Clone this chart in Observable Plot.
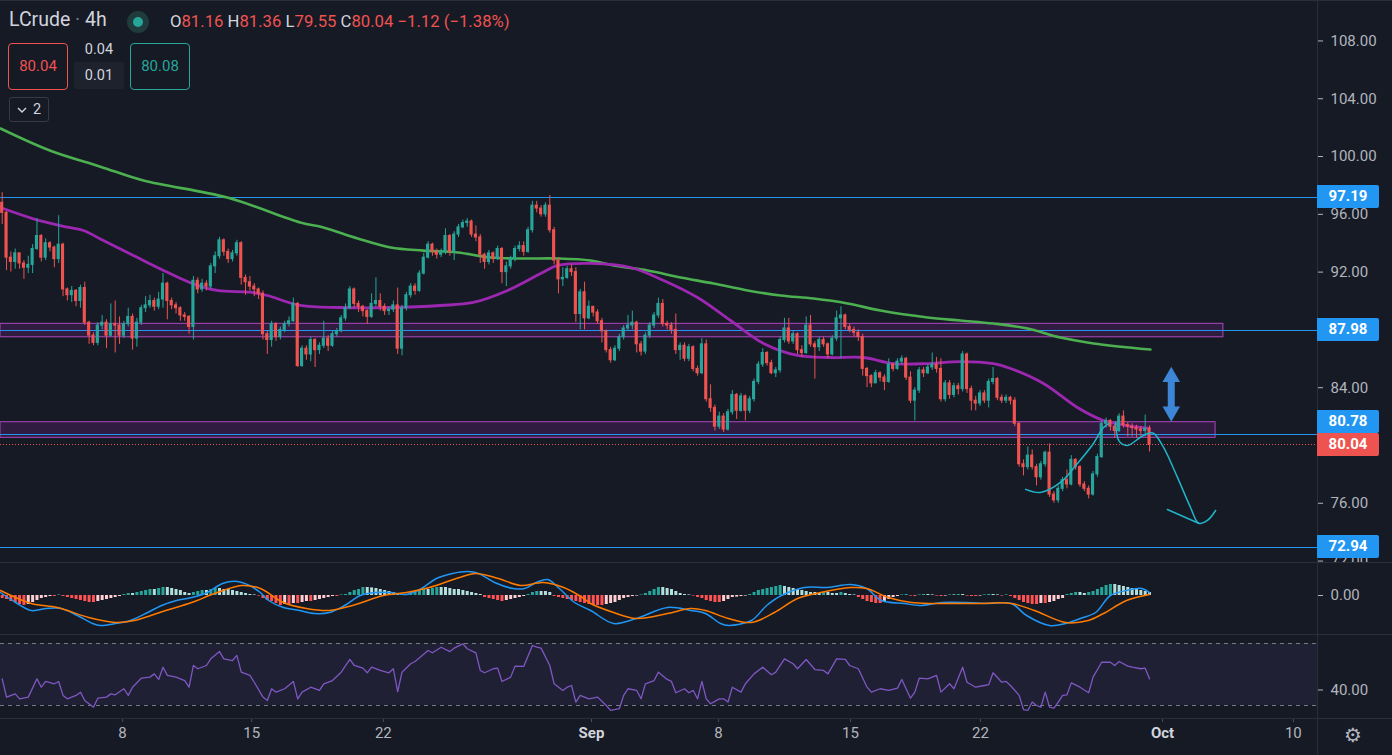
<!DOCTYPE html>
<html><head><meta charset="utf-8">
<script src="https://cdn.jsdelivr.net/npm/d3@7"></script>
<script src="https://cdn.jsdelivr.net/npm/@observablehq/plot@0.6"></script>
<style>
html,body{margin:0;padding:0;background:#161a25;overflow:hidden}
#wrap{position:relative;width:1392px;height:755px;background:#161a25;font-family:Roboto,"Noto Sans",sans-serif;color:#d1d4dc;overflow:hidden}
#wrap > svg{display:block}
.ov{position:absolute;white-space:nowrap}
.sep{position:absolute;background:#2a2e39}
.plabel{position:absolute;left:1317px;width:62px;height:23px;line-height:23px;text-align:center;color:#fff;font-weight:700;font-size:15px;border-radius:0 2px 2px 0}
.box{position:absolute;box-sizing:border-box;text-align:center;border-radius:4px;font-size:15px;white-space:nowrap}
.box svg{display:inline-block}
</style></head>
<body><div id="wrap"></div>
<script>
// ---------- DATA ----------
const symbol = "LCrude", interval = "4h";
const open0 = 96.8;
const close = [
96.1,93.0,92.7,93.3,92.6,92.3,92.5,93.6,94.5,93.0,
94.0,93.7,92.9,93.9,90.8,90.4,90.7,90.0,90.9,88.5,
87.6,87.1,88.3,88.5,87.6,88.4,88.3,87.6,88.4,88.9,
87.4,88.5,89.5,89.7,90.0,89.6,90.1,91.2,90.0,89.7,
89.5,89.0,88.9,88.2,91.4,90.8,91.2,91.0,92.4,93.1,
94.2,93.4,92.9,93.3,94.0,91.6,91.3,91.0,90.8,90.5,
87.7,87.3,88.4,87.5,88.0,88.4,88.6,89.8,85.5,86.7,
86.3,87.3,86.6,86.9,87.4,86.9,87.7,87.9,88.8,89.5,
90.8,89.8,89.6,89.3,88.9,89.8,90.0,89.6,89.3,89.4,
89.7,86.7,89.5,90.4,91.0,90.7,91.9,93.0,93.9,93.4,
93.2,93.4,94.5,93.4,94.6,95.1,95.4,95.5,94.6,94.4,
93.2,92.7,93.3,92.9,93.6,92.0,92.4,92.9,93.6,93.8,
93.4,94.9,96.6,96.4,96.0,96.6,94.9,92.8,91.5,91.6,
92.2,92.0,89.1,90.6,88.8,89.6,89.2,88.6,87.9,86.6,
85.9,86.7,87.5,88.1,88.3,88.5,87.0,86.5,87.6,88.3,
89.0,89.8,88.4,88.3,88.0,86.6,86.9,86.0,86.8,85.3,
85.0,87.0,83.2,82.6,81.3,82.0,81.1,82.3,83.5,82.4,
83.4,82.4,83.2,84.4,85.6,86.4,85.7,85.0,85.2,87.3,
88.1,87.2,87.7,86.6,86.4,88.3,87.0,86.8,87.3,87.0,
86.3,87.4,88.8,89.0,88.2,88.0,87.8,87.5,85.3,84.8,
84.3,85.0,84.7,84.4,85.6,85.3,85.8,86.0,84.7,83.1,
83.8,85.2,85.0,85.4,85.6,85.3,83.2,84.3,83.5,84.1,
83.9,86.3,83.9,83.1,82.9,83.6,83.1,84.4,84.6,83.3,
83.1,83.3,83.1,81.5,78.7,78.5,79.3,78.5,77.8,78.7,
79.5,76.6,76.2,77.0,77.6,77.3,79.0,78.5,77.3,77.0,
76.6,78.0,79.2,81.5,81.7,81.3,81.0,82.0,81.4,81.3,
81.2,81.1,81.0,81.16,80.04];
const high = [
97.5,96.2,93.4,93.6,93.3,92.8,93.1,93.9,95.7,94.6,
94.3,94.1,93.8,95.9,94.0,90.9,91.0,90.8,91.1,91.3,
88.6,87.8,88.5,89.0,88.7,89.8,90.0,88.9,88.6,89.5,
89.1,88.8,89.7,90.3,90.4,90.2,90.6,91.9,91.3,90.2,
89.9,89.6,89.2,89.0,91.7,91.6,91.5,91.4,92.6,93.4,
94.4,94.3,93.6,93.5,94.2,94.1,91.8,91.7,91.2,90.9,
90.7,87.9,88.6,88.5,88.2,88.6,88.9,90.2,89.9,86.9,
86.9,87.5,87.4,87.1,88.6,87.6,87.9,88.1,89.0,89.8,
91.0,90.9,90.0,89.7,89.4,90.5,91.6,90.5,89.8,89.6,
90.0,90.9,89.7,90.6,91.2,91.2,92.1,93.3,94.1,94.0,
93.6,93.6,95.0,94.6,94.8,95.3,95.6,95.7,95.6,95.2,
94.6,93.3,93.5,93.4,93.8,93.7,92.7,93.1,93.8,94.1,
94.1,95.1,96.9,96.9,96.6,96.8,97.3,95.1,93.0,92.3,
92.4,92.5,92.3,90.8,91.3,90.0,89.6,89.4,88.8,88.0,
86.8,86.9,87.7,88.3,89.0,89.3,88.6,87.2,87.8,88.5,
89.2,90.2,90.1,88.6,88.5,89.1,87.1,87.1,87.0,86.9,
85.5,87.4,87.3,84.2,82.8,82.3,82.2,82.5,83.8,83.6,
83.6,83.5,83.4,84.6,85.8,86.7,86.5,85.9,85.4,87.5,
88.8,88.8,87.9,87.8,86.9,88.9,89.0,87.2,87.5,87.5,
87.1,87.6,89.3,89.6,89.1,88.4,88.2,88.0,87.7,85.4,
84.9,85.2,85.1,84.9,86.0,85.7,86.0,86.2,86.1,85.1,
84.0,85.4,85.4,85.6,86.4,86.1,86.0,84.5,84.5,84.3,
84.3,86.5,86.4,84.1,83.4,83.8,83.8,84.6,85.4,84.7,
83.5,83.5,83.4,83.3,81.6,79.0,79.9,79.7,78.7,78.9,
79.6,80.1,76.8,77.2,77.8,78.3,79.3,79.1,78.6,77.5,
77.2,78.2,79.4,81.7,81.9,81.8,81.5,82.2,82.4,81.6,
81.5,81.4,81.3,82.1,81.36];
const low = [
95.3,92.1,92.0,92.2,92.2,91.5,91.9,91.9,93.5,92.7,
92.8,93.4,92.3,92.6,90.3,90.0,89.9,89.6,89.5,88.3,
87.0,86.9,86.9,88.0,86.7,87.5,86.4,87.0,87.4,88.2,
86.6,86.8,88.3,89.2,89.5,89.3,89.4,89.5,88.7,89.4,
89.1,88.6,88.6,87.7,87.3,90.5,90.6,90.7,90.8,91.9,
92.9,93.1,92.6,92.7,93.1,91.1,90.4,90.7,90.3,90.1,
87.3,86.3,86.8,87.2,87.3,87.8,88.2,88.5,85.4,85.4,
85.9,85.8,85.4,86.3,86.7,86.5,86.8,87.5,87.8,88.6,
89.4,89.5,89.2,88.9,88.4,88.8,89.6,89.3,89.0,89.0,
89.2,86.3,86.2,89.3,90.2,90.4,90.6,91.8,92.9,93.1,
92.9,93.0,93.2,93.1,92.8,94.4,95.0,95.1,94.4,94.1,
92.6,92.2,92.5,92.6,92.8,91.2,91.0,92.2,92.7,93.4,
93.1,93.3,94.7,96.1,95.8,95.8,94.7,92.5,90.5,91.0,
91.5,91.7,88.5,88.0,88.0,88.7,88.9,88.4,87.1,86.4,
85.7,85.8,86.5,87.3,87.9,88.0,86.4,86.2,86.3,87.4,
88.1,88.8,88.2,88.0,87.7,86.3,85.9,85.8,85.8,85.1,
84.8,84.9,83.0,82.3,81.0,81.1,80.9,81.0,82.1,81.8,
82.3,81.7,82.2,83.0,84.2,85.4,85.5,84.9,84.7,85.0,
87.1,87.0,87.0,86.3,86.1,86.3,86.8,84.6,86.5,86.8,
86.0,86.2,87.2,86.0,88.0,87.8,87.5,87.2,84.8,84.0,
84.0,84.3,84.4,83.8,84.3,85.1,85.2,85.6,84.5,82.9,
81.7,83.6,84.7,84.9,85.2,85.0,83.0,83.0,83.2,83.3,
83.5,83.7,83.6,82.4,82.4,82.7,82.9,82.6,84.2,83.1,
82.9,82.9,82.8,81.3,78.5,77.9,78.3,78.3,77.2,77.6,
78.5,76.4,76.0,76.0,76.8,77.0,77.2,78.3,77.1,76.8,
76.3,76.5,77.8,79.1,81.2,81.0,80.5,80.9,81.2,80.6,
80.6,80.5,80.5,80.6,79.55];
// moving averages: [bar, value]
const ma50 = [[-0.4,96.47],[7.2,95.69],[15.0,95.11],[18.7,94.88],[22.6,94.30],[30.2,93.15],[38.0,91.99],[44.0,91.19],[49.5,90.73],[57.1,90.61],[61.0,90.38],[68.6,89.69],[77.8,89.55],[89.4,89.55],[100.8,89.69],[108.4,89.90],[116.3,90.73],[123.9,91.90],[127.8,92.46],[135.4,92.60],[144.6,92.32],[152.2,91.42],[160.0,90.24],[167.6,88.65],[175.2,87.06],[183.0,86.23],[190.6,86.09],[198.2,86.09],[205.1,85.67],[212.9,85.67],[220.5,85.81],[228.1,85.67],[232.0,85.33],[239.6,84.29],[247.4,82.63],[253.4,81.73],[258.9,81.38],[264.0,81.18]];
const ma200 = [[-0.4,101.94],[11.1,100.4],[22.6,99.3],[32.5,98.34],[51.8,97.16],[68.6,95.43],[73.9,95.09],[81.8,94.33],[89.4,93.70],[96.9,93.49],[104.8,93.36],[112.4,93.01],[119.9,92.94],[127.8,92.94],[135.4,92.80],[140.7,92.46],[148.5,92.11],[156.1,91.63],[163.7,91.21],[171.5,90.73],[179.1,90.38],[186.7,90.17],[194.5,89.83],[202.1,89.34],[212.9,88.86],[220.5,88.65],[228.1,88.44],[235.9,88.10],[243.5,87.47],[251.1,87.06],[264.2,86.64]];
// MACD
const macdHist = [
-0.15,-0.2,-0.3,-0.35,-0.45,-0.5,-0.45,-0.35,-0.25,-0.15,
-0.1,-0.05,-0.05,0.03,-0.05,-0.1,-0.15,-0.2,-0.25,-0.3,
-0.35,-0.35,-0.3,-0.25,-0.2,-0.15,-0.1,-0.05,0.05,0.1,
0.1,0.15,0.2,0.25,0.3,0.3,0.35,0.4,0.4,0.35,
0.3,0.25,0.15,0.1,0.15,0.2,0.25,0.25,0.3,0.35,
0.35,0.3,0.3,0.25,0.2,0.15,0.1,0.05,0.03,-0.03,
-0.15,-0.25,-0.3,-0.4,-0.5,-0.45,-0.45,-0.4,-0.4,-0.35,
-0.3,-0.3,-0.25,-0.2,-0.15,-0.1,-0.05,-0.05,0.03,0.05,
0.15,0.25,0.3,0.4,0.4,0.38,0.35,0.3,0.25,0.2,
0.15,0.1,0.05,0.05,0.15,0.2,0.25,0.3,0.3,0.35,
0.4,0.4,0.4,0.35,0.3,0.3,0.25,0.2,0.15,0.1,
0.05,-0.1,-0.15,-0.2,-0.25,-0.3,-0.25,-0.2,-0.15,-0.1,
-0.05,0.05,0.15,0.2,0.2,0.2,0.15,-0.05,-0.1,-0.15,
-0.2,-0.25,-0.3,-0.35,-0.4,-0.45,-0.5,-0.5,-0.5,-0.45,
-0.4,-0.35,-0.25,-0.15,-0.1,-0.05,-0.03,0.03,0.1,0.2,
0.3,0.4,0.4,0.35,0.3,0.2,0.1,0.05,0.03,-0.03,
-0.1,-0.15,-0.25,-0.3,-0.35,-0.35,-0.3,-0.2,-0.1,-0.08,
-0.05,-0.03,0.05,0.15,0.25,0.3,0.35,0.4,0.45,0.5,
0.45,0.4,0.35,0.3,0.25,0.2,0.15,0.15,0.1,0.15,
0.15,0.1,0.1,0.15,0.1,0.05,0.03,-0.1,-0.2,-0.3,
-0.35,-0.4,-0.4,-0.3,-0.2,-0.1,-0.05,0.03,0.05,-0.03,
-0.05,0.03,0.05,0.05,0.03,-0.03,-0.05,-0.03,0.03,0.03,
0.05,0.05,-0.03,-0.05,-0.05,-0.03,0.03,0.05,0.05,0.03,
-0.03,0.03,-0.05,-0.15,-0.25,-0.35,-0.4,-0.45,-0.45,-0.4,
-0.4,-0.35,-0.3,-0.2,-0.15,0.05,0.1,0.15,0.15,0.1,
0.15,0.2,0.3,0.4,0.5,0.55,0.55,0.5,0.45,0.4,
0.35,0.3,0.25,0.2,0.15];
const macdLine = [[-0.4,0.15],[3.1,-0.35],[6.7,-0.75],[10.2,-0.65],[13.6,-0.65],[17.3,-1.0],[20.8,-1.4],[22.6,-1.5],[26.1,-1.4],[29.5,-1.25],[33.0,-0.9],[36.7,-0.5],[40.1,-0.25],[43.6,-0.1],[47.2,0.15],[50.7,0.6],[54.1,0.7],[56.9,0.5],[59.4,0.15],[61.3,-0.25],[64.7,-0.6],[68.4,-0.75],[71.9,-0.9],[75.3,-0.85],[78.8,-0.5],[82.4,0],[85.9,0.15],[89.3,0.15],[93.0,0.05],[96.5,0.35],[99.9,0.85],[103.6,1.1],[107.1,1.2],[109.6,1.1],[113.3,0.65],[117.6,0.35],[120.2,0.35],[122.9,0.65],[125.5,0.8],[128.2,0.35],[131.7,-0.35],[135.4,-0.75],[140.7,-1.4],[145.9,-1.15],[153.1,-0.6],[158.4,-0.75],[161.8,-0.9],[165.3,-1.4],[167.1,-1.5],[172.4,-1.25],[175.9,-0.5],[179.3,0],[184.6,0.4],[189.9,0.4],[195.2,0.55],[198.9,0.35],[202.3,-0.25],[207.6,-0.4],[211.1,-0.5],[216.4,-0.35],[221.7,-0.35],[226.9,-0.4],[232.2,-0.4],[235.7,-1.0],[241.0,-1.5],[244.7,-1.4],[248.1,-1.15],[251.6,-0.85],[255.0,0],[258.7,0.25],[262.2,0.35],[264.0,0.15]];
const signalLine = [[-0.4,0.25],[6.7,-0.4],[12.7,-0.6],[19.9,-1.1],[26.1,-1.35],[30.4,-1.25],[37.6,-0.75],[43.6,-0.35],[48.9,0.1],[55.1,0.5],[59.4,0.35],[64.7,-0.35],[70.0,-0.65],[75.3,-0.75],[80.6,-0.5],[87.7,0],[93.0,0.15],[98.3,0.4],[105.2,0.9],[108.9,1.1],[114.2,0.85],[119.3,0.5],[124.5,0.65],[129.2,0.4],[133.5,-0.1],[135.4,-0.4],[140.7,-0.85],[145.9,-1.15],[153.1,-0.9],[158.4,-0.65],[161.8,-0.75],[167.1,-1.15],[172.4,-1.35],[177.7,-0.85],[183.0,-0.15],[188.3,0.15],[195.2,0.4],[198.9,0.35],[203.9,-0.1],[209.2,-0.35],[214.5,-0.4],[223.5,-0.4],[232.2,-0.4],[237.5,-0.75],[244.7,-1.35],[249.9,-1.25],[253.4,-0.9],[258.7,-0.25],[264.0,0.05]];
// RSI: [bar, value]
const rsi = [[0,47.2],[1,35.4],[3,37.5],[4,34.3],[6,35.4],[8,47.2],[9,41.8],[10,45.5],[12,44],[13,45.5],[14,36.5],[15,34.3],[17,36.5],[18,38.6],[19,33.2],[21,28.9],[22,34.7],[24,35.4],[25,37.5],[26,36.9],[28,40.8],[29,36.5],[30,41.8],[32,47.6],[34,48.3],[35,50.4],[36,46.8],[37,54.7],[38,49.4],[40,48.3],[42,46.1],[43,41.8],[44,55.8],[45,53.7],[47,55.8],[48,60.1],[50,64.8],[51,60.1],[53,59.0],[54,62.3],[55,51.5],[57,49.4],[58,45.0],[60,35.4],[61,33.2],[62,40.8],[63,38.6],[65,40.8],[67,45.5],[68,34.3],[69,38.6],[71,41.8],[73,39.7],[74,44.0],[76,46.1],[78,51.5],[80,59.7],[81,55.8],[83,54.1],[84,51.1],[85,54.7],[87,52.6],[89,51.1],[90,53.7],[91,39.0],[92,51.5],[94,56.9],[95,58.4],[98,65.5],[99,64.0],[101,67.6],[103,64.8],[104,67.0],[106,69.8],[107,66.6],[109,64.0],[110,52.6],[111,51.1],[113,53.7],[114,54.1],[115,45.5],[117,48.3],[118,55.4],[120,55.2],[122,68.7],[123,67.6],[124,67.0],[126,55.8],[127,44.0],[129,39.7],[130,41.8],[131,42.9],[132,32.2],[133,36.5],[135,34.3],[137,35.4],[139,30.0],[140,26.8],[142,27.9],[143,36.5],[144,40.8],[146,39.7],[147,34.3],[148,44.0],[150,46.1],[151,51.5],[153,46.8],[154,45.5],[155,38.2],[157,40.8],[158,38.2],[159,39.7],[160,34.3],[161,45.5],[162,34.3],[163,31.1],[165,34.3],[166,34.3],[167,32.2],[168,41.8],[170,38.6],[171,44.0],[173,50.4],[175,54.7],[177,49.8],[178,51.5],[180,60.1],[182,56.9],[183,53.7],[185,59.7],[187,53.2],[189,52.6],[190,50.4],[192,60.1],[194,59.7],[195,55.8],[197,53.7],[199,41.8],[200,38.6],[202,40.8],[204,39.7],[206,41.2],[207,46.8],[209,34.7],[210,38.6],[211,47.6],[213,47.2],[215,49.4],[216,38.6],[218,44.0],[219,40.8],[221,54.7],[222,45.0],[224,41.8],[226,42.9],[227,43.4],[228,51.1],[230,45.0],[231,45.5],[232,42.9],[234,36.5],[235,27.4],[236,26.8],[237,32.2],[238,30.0],[239,28.9],[240,38.6],[241,28.9],[242,28.3],[243,32.2],[244,36.5],[245,36.9],[246,44.6],[248,41.8],[250,38.2],[251,48.3],[253,57.9],[255,57.9],[256,55.8],[257,58.4],[259,55.4],[260,54.7],[262,53.7],[263,54.1],[264,47.2]];
// drawings / levels
const levels = [97.19, 87.98, 80.78, 72.94];
const zones = [{top: 88.42, bottom: 87.49, end: 281.0}, {top: 81.61, bottom: 80.53, end: 279.2}];
const drawA = [[235.5,76.96],[238.9,76.75],[243.5,77.44],[247.4,78.75],[251.1,80.14],[253.2,81.18],[254.6,81.52]];
const drawB = [[256.2,81.61],[257.0,80.3],[258.9,80.0],[261.9,80.57],[263.5,80.81],[264.9,80.85],[267.2,79.88],[270.4,77.81],[273.4,75.73],[275.3,74.62],[277.3,74.81],[279.2,75.50]];
const drawC = [[268.1,75.57],[275.3,74.62]];
const arrow = {bar: 269, top: 85.2, bottom: 81.9};
const priceTicks = [72, 76, 80, 84, 88, 92, 96, 100, 104, 108];
const tickBars = [27.7, 57.4, 87.7, 135.6, 164.8, 195.2, 225.1, 267.0, 297.1];
const tickLabels = ["8", "15", "22", "Sep", "8", "15", "22", "Oct", "10"];
const bidAsk = {sell: "80.04", spread: "0.04", lot: "0.01", buy: "80.08"};

// ---------- CHART ----------
const FONT = 'Roboto, "Noto Sans", sans-serif';
const W = 1392, AXW = 75;
const xDomain = [-0.39, 302.65];
const UP = "#26a69a", DN = "#ef5350";
const candles = close.map((c, i) => {
  const o = i === 0 ? open0 : close[i - 1];
  return {i, o, c, h: high[i], l: low[i], col: c >= o ? UP : DN};
});
const last = candles[candles.length - 1];
const hist = macdHist.map((v, i) => {
  const p = i === 0 ? v : macdHist[i - 1];
  const col = v >= 0 ? (v > p ? "#26a69a" : "#b2dfdb") : (v > p ? "#ffcdd2" : "#ff5252");
  return {i, v, col};
});
const baseStyle = {background: "transparent", color: "#b2b5be", fontFamily: FONT, fontSize: "15px", overflow: "hidden"};
const wrap = document.getElementById("wrap");
const P = d => d[0], V = d => d[1];
const xOpt = {domain: xDomain, axis: null, label: null};

const main = Plot.plot({
  width: W, height: 562, marginLeft: 0, marginRight: AXW, marginTop: 0, marginBottom: 0,
  style: baseStyle,
  x: xOpt,
  y: {domain: [71.9, 110.8], axis: null, label: null},
  marks: [
    Plot.rect(zones, {x1: () => xDomain[0], x2: "end", y1: "bottom", y2: "top", fill: "#9c27b0", fillOpacity: 0.2, stroke: "#ab47bc", strokeWidth: 1}),
    Plot.ruleY(levels, {stroke: "#2196f3", strokeWidth: 1, shapeRendering: "crispEdges"}),
    Plot.ruleY([last.c], {stroke: "#ef5350", strokeWidth: 1, strokeDasharray: "1,2", shapeRendering: "crispEdges"}),
    Plot.line(ma200, {x: P, y: V, stroke: "#4caf50", strokeWidth: 2.6, curve: "catmull-rom"}),
    Plot.line(ma50, {x: P, y: V, stroke: "#9c27b0", strokeWidth: 2.8, curve: "catmull-rom"}),
    Plot.ruleX(candles, {x: "i", y1: "l", y2: "h", stroke: "col", strokeWidth: 1}),
    Plot.rect(candles, {x1: d => d.i - 0.36, x2: d => d.i + 0.36, y1: d => Math.min(d.o, d.c), y2: d => Math.max(d.o, d.c), fill: "col", insetTop: -0.5, insetBottom: -0.5}),
    Plot.line(drawA, {x: P, y: V, stroke: "#1fb5c9", strokeWidth: 1.5, curve: "catmull-rom"}),
    Plot.line(drawB, {x: P, y: V, stroke: "#1fb5c9", strokeWidth: 1.5, curve: "catmull-rom"}),
    Plot.line(drawC, {x: P, y: V, stroke: "#1fb5c9", strokeWidth: 1.5}),
    Plot.ruleX([arrow], {x: "bar", y1: d => d.bottom + 0.55, y2: d => d.top - 0.55, stroke: "#3d86d6", strokeWidth: 7}),
    Plot.dot([arrow], {x: "bar", y: d => d.top - 0.45, symbol: "triangle", r: 6.5, fill: "#3d86d6"}),
    Plot.dot([arrow], {x: "bar", y: d => d.bottom + 0.45, symbol: "triangle", r: 6.5, fill: "#3d86d6", rotate: 180}),
    Plot.axisY({anchor: "right", ticks: priceTicks, tickFormat: d => d.toFixed(2), tickSize: 5, tickPadding: 8, fontSize: 15, label: null})
  ]
});

const macd = Plot.plot({
  width: W, height: 72, marginLeft: 0, marginRight: AXW, marginTop: 0, marginBottom: 0,
  style: baseStyle,
  x: xOpt,
  y: {domain: [-1.95, 1.65], axis: null, label: null},
  marks: [
    Plot.ruleX(hist, {x: "i", y1: () => 0, y2: "v", stroke: "col", strokeWidth: 3}),
    Plot.line(macdLine, {x: P, y: V, stroke: "#2196f3", strokeWidth: 1.5, curve: "catmull-rom"}),
    Plot.line(signalLine, {x: P, y: V, stroke: "#ff7a00", strokeWidth: 1.5, curve: "catmull-rom"}),
    Plot.axisY({anchor: "right", ticks: [0], tickFormat: d => d.toFixed(2), tickSize: 5, tickPadding: 8, fontSize: 15, label: null})
  ]
});

const ticks = tickBars.map((b, k) => ({bar: b, label: tickLabels[k], month: /[A-Za-z]/.test(tickLabels[k])}));
const rsiChart = Plot.plot({
  width: W, height: 121, marginLeft: 0, marginRight: AXW, marginTop: 0, marginBottom: 37,
  style: baseStyle,
  x: xOpt,
  y: {domain: [21.6, 75.8], axis: null, label: null},
  marks: [
    Plot.rect([0], {x1: () => xDomain[0], x2: () => xDomain[1], y1: () => 30, y2: () => 70, fill: "#7e57c2", fillOpacity: 0.1}),
    Plot.ruleY([30, 70], {stroke: "#787b86", strokeWidth: 1, strokeDasharray: "4,4", shapeRendering: "crispEdges"}),
    Plot.line(rsi, {x: P, y: V, stroke: "#7e57c2", strokeWidth: 1.3}),
    Plot.axisY({anchor: "right", ticks: [40], tickFormat: d => d.toFixed(2), tickSize: 5, tickPadding: 8, fontSize: 15, label: null}),
    Plot.axisX({anchor: "bottom", ticks: tickBars, tickFormat: () => "", tickSize: 4, stroke: "#4a4e59", label: null}),
    Plot.text(ticks.filter(d => !d.month), {x: "bar", text: "label", frameAnchor: "bottom", dy: 19, fill: "#b2b5be", fontSize: 15}),
    Plot.text(ticks.filter(d => d.month), {x: "bar", text: "label", frameAnchor: "bottom", dy: 19, fill: "#d1d4dc", fontSize: 15, fontWeight: "bold"})
  ]
});

wrap.appendChild(main);
wrap.appendChild(macd);
wrap.appendChild(rsiChart);

function add(html) { wrap.insertAdjacentHTML("beforeend", html); }
// separators
add('<div class="sep" style="left:0;top:0;width:1392px;height:1px"></div>');
add('<div class="sep" style="left:0;top:562px;width:1392px;height:1px"></div>');
add('<div class="sep" style="left:0;top:634px;width:1392px;height:1px"></div>');
add('<div class="sep" style="left:0;top:718px;width:1392px;height:1px"></div>');
add('<div class="sep" style="left:1317px;top:0;width:1px;height:755px"></div>');

// price labels on axis (levels nudged away from the last-price label, as the platform does)
const ys = main.scale("y");
const LH = 23;
const yLast = ys.apply(last.c);
levels.forEach(v => {
  let y = ys.apply(v);
  if (Math.abs(y - yLast) < LH) y = y < yLast ? yLast - LH : yLast + LH;
  add(`<div class="plabel" style="top:${y - LH / 2}px;background:#2196f3">${v.toFixed(2)}</div>`);
});
add(`<div class="plabel" style="top:${yLast - LH / 2}px;background:#ef5350">${last.c.toFixed(2)}</div>`);

// header legend
const chg = last.c - last.o;
const pct = chg / last.o * 100;
const fmt = v => (v < 0 ? "\u2212" : "+") + Math.abs(v).toFixed(2);
add(`<div class="ov" style="left:9px;top:8px;font-size:19.5px;color:#d1d4dc">${symbol} <span style="color:#787b86">·</span> ${interval}</div>`);
add('<div class="ov" style="left:127px;top:11px;width:22px;height:22px;border-radius:50%;background:#1f3b3c"></div>');
add('<div class="ov" style="left:133px;top:17px;width:10px;height:10px;border-radius:50%;background:#26a69a"></div>');
const R = "#ef5350";
add(`<div class="ov" style="left:170px;top:12px;font-size:16.7px;color:#d1d4dc">O<span style="color:${R}">${last.o.toFixed(2)}</span> H<span style="color:${R}">${last.h.toFixed(2)}</span> L<span style="color:${R}">${last.l.toFixed(2)}</span> C<span style="color:${R}">${last.c.toFixed(2)}</span> <span style="color:${R}">${fmt(chg)} (${fmt(pct)}%)</span></div>`);
add(`<div class="box" style="left:8px;top:43px;width:60px;height:47px;line-height:45px;border:1px solid #ef5350;color:#ef5350">${bidAsk.sell}</div>`);
add(`<div class="ov" style="left:74px;top:41px;width:50px;text-align:center;font-size:14.5px;color:#d1d4dc">${bidAsk.spread}</div>`);
add(`<div class="box" style="left:74px;top:62px;width:50px;height:27px;line-height:27px;background:#1e222d;color:#d1d4dc;font-size:14.5px;border-radius:2px">${bidAsk.lot}</div>`);
add(`<div class="box" style="left:130px;top:43px;width:60px;height:47px;line-height:45px;border:1px solid #26a69a;color:#26a69a">${bidAsk.buy}</div>`);
add('<div class="box" style="left:9px;top:97px;width:40px;height:25px;line-height:23px;border:1px solid #363a45;border-radius:3px;color:#d1d4dc;font-size:14.5px"><svg width="10" height="8" style="margin-right:6px;vertical-align:middle"><polyline points="1,2 5,6 9,2" fill="none" stroke="#d1d4dc" stroke-width="1.4"/></svg>2</div>');
// settings icon
add('<div class="ov" style="left:1344px;top:723px;font-size:20px;color:#b2b5be;font-family:\'DejaVu Sans\'">\u2699</div>');
</script></body></html>
